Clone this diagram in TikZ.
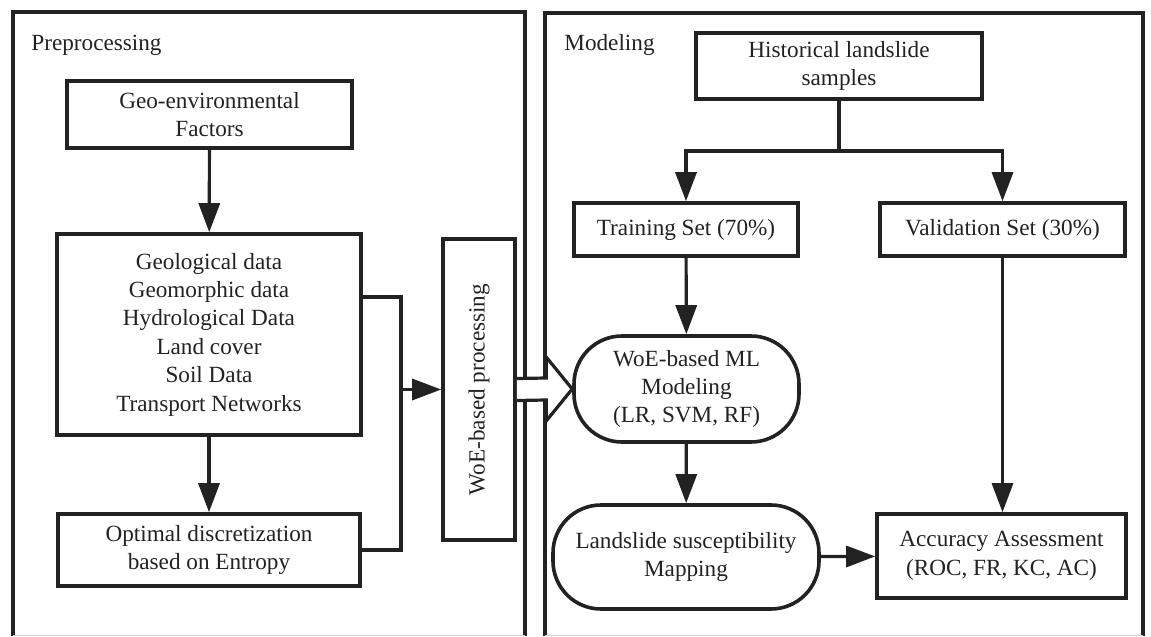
\documentclass[tikz,border=0pt]{standalone}
\usepackage{fontspec}
\setmainfont{Liberation Serif}
\usepackage{xcolor}
\definecolor{ink}{HTML}{222222}
\usetikzlibrary{arrows.meta,positioning,calc}

\begin{document}
\begin{tikzpicture}[x=0.5pt, y=-0.5pt, >={Triangle[length=14.5pt,width=10.5pt]},
    box/.style={draw=ink, line width=1.8pt, align=center, inner sep=0pt, text=ink,
                font=\fontsize{11.6}{14.2}\selectfont},
    roundbox/.style={box, rounded corners=24pt},
    link/.style={draw=ink, line width=1.6pt},
    flow/.style={link, ->},
    panel/.style={draw=ink, line width=1.7pt},
    title/.style={anchor=west, inner sep=0pt, text=ink, font=\fontsize{11.6}{14.2}\selectfont}]
    \useasboundingbox (0,0) rectangle (1151,637);

    % Panels
    \draw[panel] (13,636) -- (13,12) -- (525,12) -- (525,636);
    \draw[panel] (545,636) -- (545,13) -- (1143,13) -- (1143,636);
    \draw[gray!35, line width=0.6pt] (13,635.5) -- (525,635.5);
    \draw[gray!35, line width=0.6pt] (545,635.5) -- (1143,635.5);
    \node[title] (pre) at (31,45) {Preprocessing};
    \node[title] (mod) at (564,45) {Modeling};

    % Preprocessing boxes
    \node[box, minimum width=142.5pt, minimum height=33.5pt] (geo) at (209.5,114.5)
        {Geo-environmental\\Factors};
    \node[box, minimum width=152pt, minimum height=100.5pt] (data) at (209,334.5)
        {Geological data\\Geomorphic data\\Hydrological Data\\Land cover\\Soil Data\\Transport Networks};
    \node[box, minimum width=151pt, minimum height=36pt] (opt) at (209,550)
        {Optimal discretization\\based on Entropy};
    \node[box, minimum width=36pt, minimum height=150.5pt] (woe) at (479,389.5)
        {\rotatebox{90}{WoE-based processing}};

    % Modeling boxes
    \node[box, minimum width=143pt, minimum height=33pt] (hist) at (839,66)
        {Historical landslide\\samples};
    \node[box, minimum width=112pt, minimum height=26.5pt] (train) at (686,229.5)
        {Training Set (70\%)};
    \node[box, minimum width=122.5pt, minimum height=26.5pt] (valid) at (1002.5,229.5)
        {Validation Set (30\%)};
    \node[roundbox, minimum width=112.5pt, minimum height=53pt] (ml) at (686.5,389)
        {WoE-based ML\\Modeling\\(LR, SVM, RF)};
    \node[roundbox, minimum width=133pt, minimum height=52pt] (map) at (686,557)
        {Landslide susceptibility\\Mapping};
    \node[box, minimum width=124.5pt, minimum height=42pt] (acc) at (1001.5,556)
        {Accuracy Assessment\\(ROC, FR, KC, AC)};

    % Preprocessing links
    \coordinate (bus) at (401,389.5);
    \draw[flow] (geo) -- (data);
    \draw[flow] (data) -- (opt);
    \draw[link] ([yshift=18.75pt]data.east) -| (bus) |- (opt.east);
    \draw[flow] (bus) -- (woe.west);

    % Hollow arrow into the modeling panel
    \draw[link, fill=white] ([yshift=5.5pt]woe.east) -- ([xshift=-13pt,yshift=5.5pt]ml.west)
        -- ([xshift=-13pt,yshift=16pt]ml.west) -- (ml.west)
        -- ([xshift=-13pt,yshift=-16pt]ml.west) -- ([xshift=-13pt,yshift=-5.5pt]ml.west)
        -- ([yshift=-5.5pt]woe.east);

    % Modeling links
    \coordinate (fork) at (839,151);
    \draw[link] (hist) -- (fork);
    \draw[flow] (fork) -| (train.north);
    \draw[flow] (fork) -| (valid.north);
    \draw[flow] (train) -- (ml);
    \draw[flow] (ml) -- (map);
    \draw[flow] (map) -- (acc);
    \draw[flow] (valid.south) -- (valid.south |- acc.north);
\end{tikzpicture}
\end{document}
